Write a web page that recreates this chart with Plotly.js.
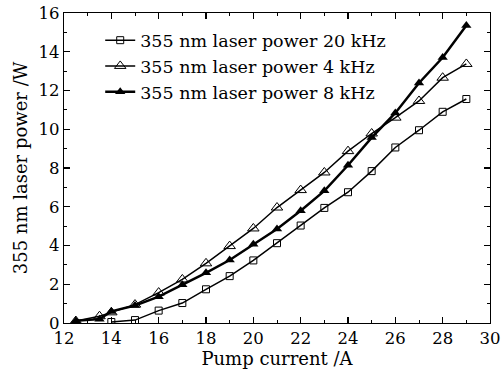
<!DOCTYPE html>
<html><head><meta charset="utf-8">
<script src="https://cdn.plot.ly/plotly-3.0.1.min.js"></script>
<style>body{margin:0;background:#fff}#chart{width:501px;height:376px}</style>
</head><body><div id="chart"></div>
<script>
const names = ["355 nm laser power 20 kHz", "355 nm laser power 4 kHz", "355 nm laser power 8 kHz"];
const x20 = [14, 15, 16, 17, 18, 19, 20, 21, 22, 23, 24, 25, 26, 27, 28, 29];
const y20 = [0.05, 0.15, 0.64, 1.03, 1.74, 2.42, 3.23, 4.12, 5.03, 5.94, 6.75, 7.84, 9.06, 9.95, 10.9, 11.56];
const x4 = [12.5, 13.5, 14, 15, 16, 17, 18, 19, 20, 21, 22, 23, 24, 25, 26, 27, 28, 29];
const y4 = [0.1, 0.35, 0.55, 0.95, 1.57, 2.25, 3.08, 3.97, 4.88, 5.96, 6.86, 7.77, 8.87, 9.78, 10.6, 11.46, 12.66, 13.37];
const x8 = [12.5, 13.5, 14, 15, 16, 17, 18, 19, 20, 21, 22, 23, 24, 25, 26, 27, 28, 29];
const y8 = [0.12, 0.2, 0.6, 0.9, 1.36, 1.97, 2.59, 3.25, 4.06, 4.85, 5.79, 6.82, 8.14, 9.57, 10.84, 12.39, 13.7, 15.36];

const SERIF = "'DejaVu Serif', 'Liberation Serif', serif";
const traces = [
  {x: x20, y: y20, name: names[0], mode: 'lines+markers',
   line: {color: '#000', width: 1.5},
   marker: {symbol: 'square-open', size: 7, color: '#000', line: {width: 1}}},
  {x: x4, y: y4, name: names[1], mode: 'lines+markers',
   line: {color: '#000', width: 1.5},
   marker: {symbol: 'triangle-up-open', size: 10, color: '#000', line: {width: 1}}},
  {x: x8, y: y8, name: names[2], mode: 'lines+markers',
   line: {color: '#000', width: 2.5},
   marker: {symbol: 'triangle-up', size: 9, color: '#000'}}
];
const axisCommon = {
  showgrid: false, zeroline: false, showline: true, linecolor: '#000', linewidth: 1.2,
  mirror: 'ticks', ticks: 'inside', ticklen: 6, tickwidth: 1.2, tickcolor: '#000',
  tickfont: {family: SERIF, size: 16.5, color: '#000'}
};
const layout = {
  width: 501, height: 376,
  margin: {l: 64, r: 11, t: 13, b: 53},
  paper_bgcolor: '#fff', plot_bgcolor: '#fff',
  font: {family: SERIF, color: '#000'},
  xaxis: Object.assign({}, axisCommon, {
    range: [12, 30], dtick: 2, tick0: 12,
    minor: {dtick: 1, ticks: 'inside', ticklen: 3, tickwidth: 1, tickcolor: '#000'},
    title: {text: 'Pump current /A', font: {family: SERIF, size: 18}, standoff: 1}
  }),
  yaxis: Object.assign({}, axisCommon, {
    range: [0, 16], dtick: 2, tick0: 0,
    minor: {dtick: 1, ticks: 'inside', ticklen: 3, tickwidth: 1, tickcolor: '#000'},
    title: {text: '355 nm laser power /W', font: {family: SERIF, size: 18}, standoff: 6}
  }),
  showlegend: true,
  legend: {x: 0.085, y: 0.97, xanchor: 'left', yanchor: 'top', bgcolor: 'rgba(0,0,0,0)',
    font: {family: SERIF, size: 17.5, color: '#000'}, tracegroupgap: 0, itemwidth: 30}
};
Plotly.newPlot('chart', traces, layout, {displayModeBar: false, staticPlot: true});
</script></body></html>
